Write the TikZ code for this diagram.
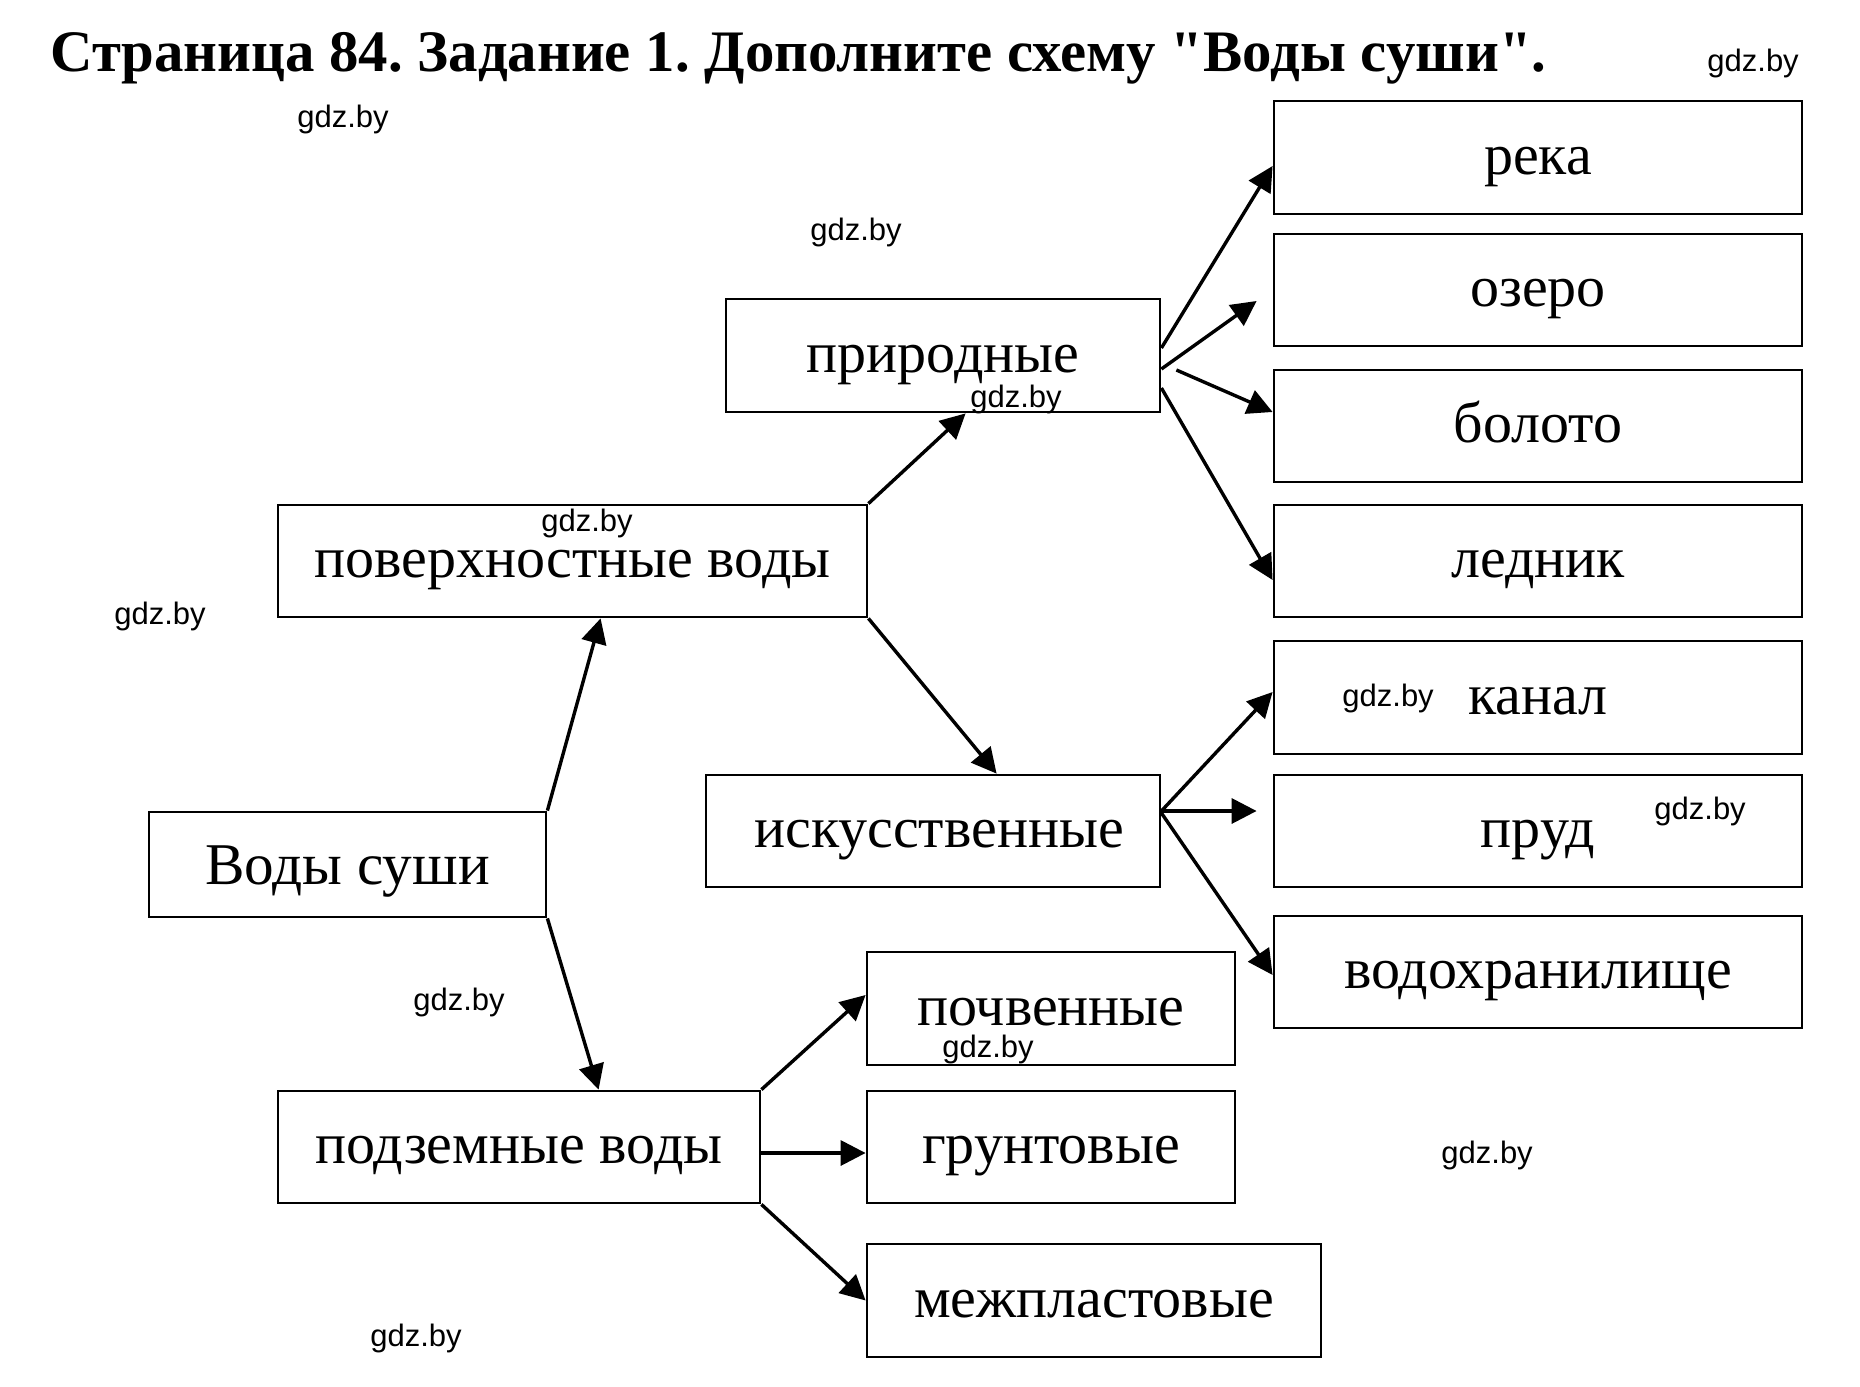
\documentclass[tikz,border=0pt]{standalone}
\usepackage{fontspec}
\setmainfont{Liberation Serif}[Ligatures=TeXOff]
\newfontfamily\wmfont{Liberation Sans}
\usetikzlibrary{arrows.meta}
\frenchspacing
\begin{document}
\begin{tikzpicture}[x=0.5pt,y=-0.5pt,
  box/.style={draw, line width=1.4pt, rectangle, inner sep=0pt,
    font=\fontsize{29}{34}\selectfont, text height=21pt, text depth=4.5pt},
  arr/.style={line width=1.7pt, -{Triangle[length=12.5pt,width=12.5pt]}},
  wm/.style={font=\wmfont\fontsize{15.5}{18}\selectfont, anchor=base west, inner sep=0pt}]
\useasboundingbox (0,0) rectangle (1860,1387);
\fill[white] (0,0) rectangle (1860,1387);
% title
\node[anchor=base west, inner sep=0pt, font=\bfseries\fontsize{29.4}{34}\selectfont] (title) at (50,71)
  {Страница 84. Задание 1. Дополните схему "Воды суши".};
% right column
\node[box, minimum width=264pt, minimum height=56.5pt] (river) at (1538,157.5) {река};
\node[box, minimum width=264pt, minimum height=56pt] (lake) at (1538,290) {озеро};
\node[box, minimum width=264pt, minimum height=56pt] (swamp) at (1538,426) {болото};
\node[box, minimum width=264pt, minimum height=56pt] (glacier) at (1538,561) {ледник};
\node[box, minimum width=264pt, minimum height=56.5pt] (canal) at (1538,697.5) {канал};
\node[box, minimum width=264pt, minimum height=56pt] (pond) at (1538,831) {пруд};
\node[box, minimum width=264pt, minimum height=56pt] (reservoir) at (1538,972) {водохранилище};
% middle
\node[box, minimum width=217pt, minimum height=56.5pt] (nat) at (943,355.5) {природные};
\node[box, minimum width=227pt, minimum height=56pt] (art) at (933,831) {\hspace*{6pt}искусственные};
\node[box, minimum width=294.5pt, minimum height=56pt] (surf) at (572.5,561) {поверхностные воды};
\node[box, minimum width=198.5pt, minimum height=52.5pt, font=\fontsize{29.6}{34}\selectfont,
  text height=23pt, text depth=3pt] (land) at (347.5,864.5) {Воды суши};
\node[box, minimum width=241pt, minimum height=56pt] (under) at (519,1147) {подземные воды};
\node[box, minimum width=184pt, minimum height=56.5pt] (soil) at (1051,1008.5) {почвенные};
\node[box, minimum width=184pt, minimum height=56pt] (ground) at (1051,1147) {грунтовые};
\node[box, minimum width=227pt, minimum height=56.5pt] (inter) at (1094,1300.5) {межпластовые};
% arrows
\draw[arr] (land.north east) -- ([xshift=162pt]surf.south west);
\draw[arr] (land.south east) -- ([xshift=161pt]under.north west);
\draw[arr] (surf.north east) -- ([xshift=120.5pt]nat.south west);
\draw[arr] (surf.south east) -- ([xshift=146pt]art.north west);
\draw[arr] ([yshift=3.75pt]nat.east) -- ([yshift=-4.25pt]river.west);
\draw[arr] ([yshift=-6.75pt]nat.east) -- ([xshift=-8pt,yshift=-5.5pt]lake.west);
\draw[arr] ([xshift=7.5pt,yshift=-7.25pt]nat.east) -- ([yshift=7pt]swamp.west);
\draw[arr] ([yshift=-16.25pt]nat.east) -- ([yshift=-9.5pt]glacier.west);
\draw[arr] ([yshift=10pt]art.east) -- ([yshift=2.75pt]canal.west);
\draw[arr] ([yshift=10pt]art.east) -- ([xshift=-8pt,yshift=10pt]pond.west);
\draw[arr] ([yshift=9pt]art.east) -- ([yshift=-1.5pt]reservoir.west);
\draw[arr] (under.north east) -- ([yshift=6.75pt]soil.west);
\draw[arr] ([yshift=-3pt]under.east) -- ([yshift=-3pt]ground.west);
\draw[arr] (under.south east) -- (inter.west);
% watermarks
\node[wm] (wm1) at (297,127) {gdz.by};
\node[wm] (wm2) at (1707,71) {gdz.by};
\node[wm] (wm3) at (810,240) {gdz.by};
\node[wm] (wm4) at (970,407) {gdz.by};
\node[wm] (wm5) at (541,531) {gdz.by};
\node[wm] (wm6) at (114,624) {gdz.by};
\node[wm] (wm7) at (1342,706) {gdz.by};
\node[wm] (wm8) at (1654,819) {gdz.by};
\node[wm] (wm9) at (413,1010) {gdz.by};
\node[wm] (wm10) at (942,1057) {gdz.by};
\node[wm] (wm11) at (1441,1163) {gdz.by};
\node[wm] (wm12) at (370,1346) {gdz.by};
\end{tikzpicture}
\end{document}
